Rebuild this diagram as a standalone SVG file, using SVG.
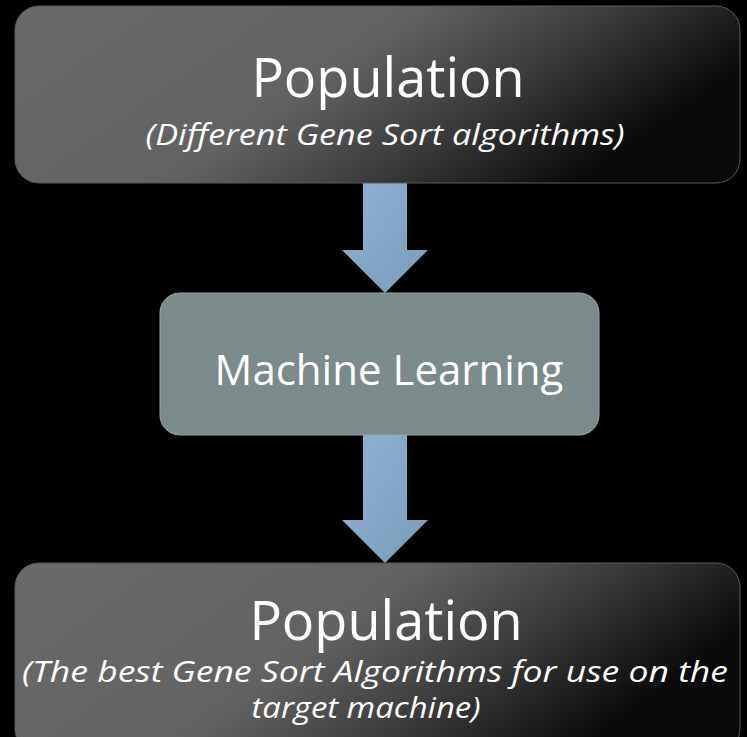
<svg xmlns="http://www.w3.org/2000/svg" width="747" height="737" viewBox="0 0 747 737">
<defs>
<linearGradient id="boxGrad" x1="0" y1="0" x2="1" y2="0.35">
<stop offset="0" stop-color="#6a6a6a"/>
<stop offset="0.5" stop-color="#626262"/>
<stop offset="0.75" stop-color="#3a3a3a"/>
<stop offset="1" stop-color="#0a0a0a"/>
</linearGradient>
<linearGradient id="arrowGrad" x1="0" y1="0" x2="1" y2="1">
<stop offset="0" stop-color="#8fb3d5"/>
<stop offset="1" stop-color="#7b9cba"/>
</linearGradient>
<style>
.box{fill:url(#boxGrad);stroke:#5a5a5a;stroke-width:1}
.mid{fill:#7b8a8b;stroke:#9aa6a7;stroke-width:1}
.arrow{fill:url(#arrowGrad)}
.title{font-family:"Open Sans","Liberation Sans",sans-serif;fill:#ffffff;text-anchor:middle}
.sub{font-family:"Open Sans","Liberation Sans",sans-serif;font-style:italic;fill:#ffffff;text-anchor:middle}
</style>
</defs>
<rect width="747" height="737" fill="#000000"/>
<g id="connectors">
<path class="arrow" d="M363,183 H407 V250 H428 L385,293 L342,250 H363 Z"/>
<path class="arrow" d="M363,435 H407 V520 H428 L385,563 L342,520 H363 Z"/>
</g>
<g id="node-population-top">
<rect class="box" x="15" y="6" width="725" height="177" rx="24"/>
<text class="title" x="388" y="97" font-size="54">Population</text>
<text class="sub" x="385" y="145" font-size="29" textLength="479" lengthAdjust="spacingAndGlyphs">(Different Gene Sort algorithms)</text>
</g>
<g id="node-machine-learning">
<rect class="mid" x="160" y="293" width="439" height="142" rx="20"/>
<text class="title" x="389" y="385" font-size="42">Machine Learning</text>
</g>
<g id="node-population-bottom">
<rect class="box" x="15" y="563" width="725" height="190" rx="24"/>
<text class="title" x="386" y="640" font-size="54">Population</text>
<text class="sub" x="375" y="682" font-size="29" textLength="706" lengthAdjust="spacingAndGlyphs">(The best Gene Sort Algorithms for use on the</text>
<text class="sub" x="366" y="718" font-size="29" textLength="229" lengthAdjust="spacingAndGlyphs">target machine)</text>
</g>
</svg>
